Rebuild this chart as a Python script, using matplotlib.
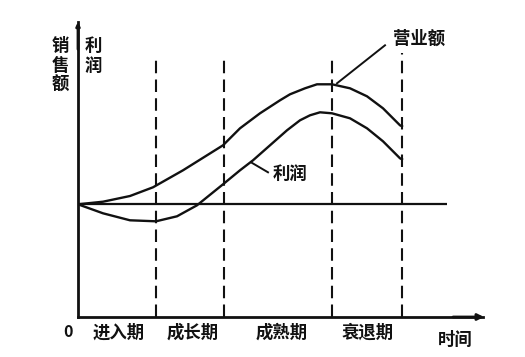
import matplotlib
matplotlib.use("Agg")
import matplotlib.pyplot as plt

plt.rcParams['font.family'] = ['Noto Sans CJK SC', 'DejaVu Sans']

# ---- data (time units on x, amount relative to the zero line on y) ----
sales_x = [0, 2.5, 5.2, 7.5, 10.5, 14.5, 16.2, 18.2, 20.2, 21.2, 22.7, 23.9,
           25.4, 27.2, 28.9, 30.5, 32.2, 32.4]
sales_y = [0, 0.26, 0.83, 1.7, 3.4, 5.9, 7.6, 9.1, 10.4, 11.0, 11.6, 12.0,
           12.0, 11.6, 10.8, 9.6, 7.9, 7.8]

profit_x = [0, 2.5, 5.2, 7.8, 9.9, 11.9, 14.5, 16.2, 17.5, 19.2, 20.9, 22.2,
            23.2, 24.2, 25.4, 27.2, 28.9, 30.5, 32.2, 32.4]
profit_y = [0, -0.9, -1.6, -1.7, -1.2, -0.1, 2.0, 3.4, 4.4, 5.9, 7.4, 8.4,
            8.9, 9.2, 9.1, 8.6, 7.6, 6.3, 4.6, 4.5]

stage_bounds = [7.8, 14.6, 25.4, 32.4]
stage_tops = [14.4, 14.9, 14.7, 15.1]
stage_names = ['进入期', '成长期', '成熟期', '衰退期']
stage_centers = [4.05, 11.5, 20.4, 29.0]

ink = '#111111'

fig = plt.figure(figsize=(5.25, 3.57), dpi=100)
fig.patch.set_facecolor('white')
ax = fig.add_axes([78/525, (357-317)/357, (483-78)/525, (317-22)/357])
ymin, ymax = -11.27, 18.23
ax.set_xlim(0, 40.5)
ax.set_ylim(ymin, ymax)
for s in ['top', 'right']:
    ax.spines[s].set_visible(False)
for s in ['left', 'bottom']:
    ax.spines[s].set_linewidth(2.0)
    ax.spines[s].set_color(ink)
ax.set_xticks([])
ax.set_yticks([])

# arrow heads on the axes
ax.annotate('', xy=(40.6, ymin), xytext=(37.5, ymin),
            arrowprops=dict(arrowstyle='-|>', color=ink, lw=2.0,
                            mutation_scale=9, shrinkA=0, shrinkB=0),
            annotation_clip=False)
ax.annotate('', xy=(0, ymax), xytext=(0, 15.5),
            arrowprops=dict(arrowstyle='-|>', color=ink, lw=2.0,
                            mutation_scale=5, shrinkA=0, shrinkB=0),
            annotation_clip=False)

# zero line
ax.plot([0, 36.9], [0, 0], color=ink, lw=1.6, solid_capstyle='butt')

# stage boundaries
for xb, yt in zip(stage_bounds, stage_tops):
    ax.plot([xb, xb], [ymin, yt], color=ink, lw=1.5, linestyle=(0, (6, 3)))

# curves
ax.plot(sales_x, sales_y, color=ink, lw=1.7, solid_joinstyle='round')
ax.plot(profit_x, profit_y, color=ink, lw=1.7, solid_joinstyle='round')

fs = 12.5
# y-axis labels (stacked characters)
ax.text(-1.8, 16.7, '销\n售\n额', ha='center', va='top', fontsize=fs,
        fontweight='bold', color=ink, linespacing=1.1, clip_on=False)
ax.text(1.5, 16.7, '利\n润', ha='center', va='top', fontsize=fs,
        fontweight='bold', color=ink, linespacing=1.1, clip_on=False)

# curve labels with leader lines
ax.text(34.1, 16.6, '营业额', ha='center', va='center', fontsize=fs,
        fontweight='bold', color=ink)
ax.plot([30.7, 25.9], [15.9, 12.1], color=ink, lw=1.4)
ax.text(21.25, 3.0, '利润', ha='center', va='center', fontsize=fs,
        fontweight='bold', color=ink)
ax.plot([19.0, 17.3], [3.2, 4.2], color=ink, lw=1.4)

# x-axis texts
ax.text(-1.05, -12.8, '0', ha='center', va='center', fontsize=fs - 1,
        fontweight='bold', color=ink, clip_on=False)
for name, xc in zip(stage_names, stage_centers):
    ax.text(xc, -12.8, name, ha='center', va='center', fontsize=fs,
            fontweight='bold', color=ink, clip_on=False)
ax.text(37.7, -13.6, '时间', ha='center', va='center', fontsize=fs,
        fontweight='bold', color=ink, clip_on=False)

fig.savefig('out.png', dpi=100, facecolor='white')
